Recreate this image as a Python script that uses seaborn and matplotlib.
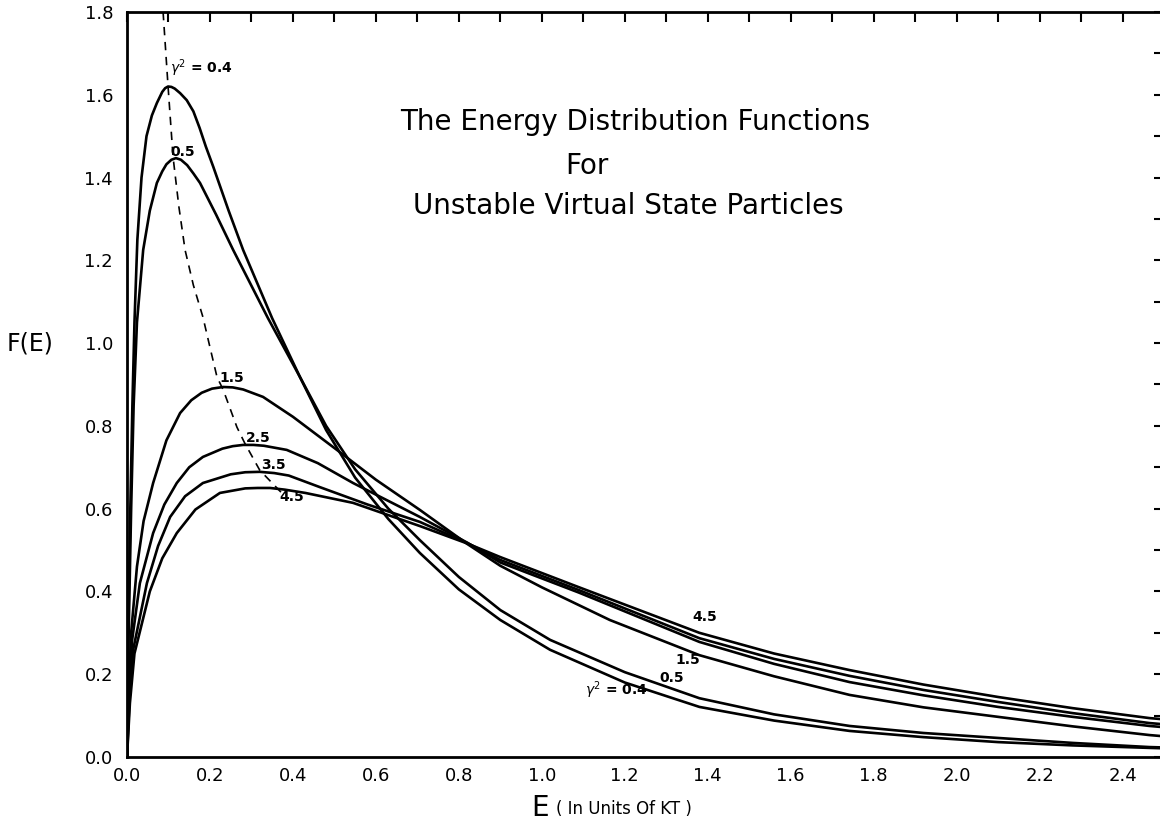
import numpy as np
import pandas as pd
import matplotlib
matplotlib.use("Agg")
import matplotlib.pyplot as plt
import seaborn as sns
from matplotlib.ticker import MultipleLocator, FixedLocator

# values, one curve per gamma^2
g04_x = [0, 0.003, 0.008, 0.013, 0.018, 0.025, 0.035, 0.047, 0.060, 0.072, 0.085, 0.092, 0.099,
         0.107, 0.115, 0.128, 0.144, 0.16, 0.175, 0.19, 0.208, 0.245, 0.28, 0.35, 0.417, 0.48,
         0.55, 0.63, 0.706, 0.8, 0.9, 1.02, 1.2, 1.38, 1.56, 1.742, 1.92, 2.10, 2.28, 2.465, 2.5]
g04_y = [0, 0.30, 0.60, 0.85, 1.05, 1.25, 1.40, 1.50, 1.55, 1.58, 1.607, 1.616, 1.62,
         1.619, 1.615, 1.604, 1.587, 1.56, 1.52, 1.475, 1.426, 1.32, 1.225, 1.06, 0.918, 0.79,
         0.675, 0.575, 0.493, 0.405, 0.331, 0.259, 0.18, 0.121, 0.088, 0.063, 0.048, 0.036, 0.028,
         0.022, 0.021]

g05_x = [0, 0.004, 0.010, 0.016, 0.024, 0.039, 0.055, 0.072, 0.085, 0.095, 0.107, 0.118,
         0.13, 0.145, 0.16, 0.176, 0.215, 0.256, 0.34, 0.417, 0.48, 0.55, 0.63, 0.706, 0.8,
         0.9, 1.02, 1.2, 1.38, 1.56, 1.742, 1.92, 2.10, 2.28, 2.465, 2.5]
g05_y = [0, 0.30, 0.60, 0.85, 1.05, 1.225, 1.32, 1.387, 1.415, 1.432, 1.443, 1.447,
         1.443, 1.43, 1.41, 1.387, 1.31, 1.225, 1.06, 0.918, 0.80, 0.695, 0.60, 0.524, 0.435,
         0.355, 0.283, 0.205, 0.142, 0.103, 0.075, 0.058, 0.046, 0.034, 0.024, 0.023]

g15_x = [0, 0.004, 0.010, 0.024, 0.040, 0.063, 0.095, 0.128, 0.155, 0.18, 0.205, 0.232,
         0.255, 0.28, 0.328, 0.40, 0.506, 0.60, 0.706, 0.82, 0.9, 1.0, 1.164, 1.38, 1.56,
         1.742, 1.92, 2.10, 2.28, 2.465, 2.5]
g15_y = [0, 0.15, 0.30, 0.46, 0.57, 0.662, 0.765, 0.831, 0.862, 0.88, 0.89, 0.894,
         0.893, 0.888, 0.87, 0.822, 0.742, 0.67, 0.597, 0.515, 0.462, 0.41, 0.331, 0.246, 0.195,
         0.15, 0.12, 0.097, 0.074, 0.053, 0.05]

g25_x = [0, 0.005, 0.012, 0.031, 0.063, 0.09, 0.12, 0.15, 0.183, 0.23, 0.255, 0.28, 0.305,
         0.33, 0.385, 0.46, 0.545, 0.706, 0.82, 0.9, 1.09, 1.38, 1.56, 1.742, 1.92, 2.10, 2.28,
         2.465, 2.5]
g25_y = [0, 0.15, 0.28, 0.42, 0.541, 0.61, 0.662, 0.70, 0.725, 0.745, 0.751, 0.754, 0.754,
         0.752, 0.742, 0.71, 0.662, 0.58, 0.518, 0.470, 0.397, 0.278, 0.225, 0.181, 0.149, 0.121,
         0.097, 0.075, 0.072]

g35_x = [0, 0.006, 0.015, 0.048, 0.075, 0.104, 0.14, 0.183, 0.25, 0.285, 0.32, 0.355, 0.39,
         0.465, 0.58, 0.706, 0.82, 0.9, 1.09, 1.38, 1.56, 1.742, 1.92, 2.10, 2.28, 2.465, 2.5]
g35_y = [0, 0.14, 0.26, 0.42, 0.51, 0.58, 0.63, 0.662, 0.683, 0.688, 0.689, 0.686, 0.68,
         0.652, 0.61, 0.568, 0.517, 0.476, 0.403, 0.287, 0.237, 0.196, 0.162, 0.133, 0.106,
         0.082, 0.079]

g45_x = [0, 0.007, 0.018, 0.055, 0.085, 0.12, 0.165, 0.224, 0.285, 0.315, 0.345, 0.38, 0.43,
         0.545, 0.706, 0.82, 0.9, 1.09, 1.38, 1.56, 1.742, 1.92, 2.10, 2.28, 2.465, 2.5]
g45_y = [0, 0.13, 0.25, 0.40, 0.48, 0.541, 0.598, 0.638, 0.649, 0.65, 0.65, 0.646, 0.638,
         0.614, 0.558, 0.516, 0.483, 0.41, 0.30, 0.25, 0.21, 0.175, 0.145, 0.118, 0.094, 0.091]

# dashed locus through the peaks
peak_x = [0.087, 0.093, 0.099, 0.105, 0.111, 0.125, 0.14, 0.16, 0.183, 0.2, 0.217, 0.232,
          0.265, 0.284, 0.32, 0.373]
peak_y = [1.80, 1.71, 1.62, 1.535, 1.45, 1.33, 1.225, 1.14, 1.063, 0.99, 0.918, 0.887,
          0.797, 0.758, 0.693, 0.638]

x_ticks = [0.0, 0.2, 0.4, 0.6, 0.8, 1.0, 1.2, 1.4, 1.6, 1.8, 2.0, 2.2, 2.4]
y_ticks = [0.0, 0.2, 0.4, 0.6, 0.8, 1.0, 1.2, 1.4, 1.6, 1.8]

curves = {
    "0.4": (g04_x, g04_y),
    "0.5": (g05_x, g05_y),
    "1.5": (g15_x, g15_y),
    "2.5": (g25_x, g25_y),
    "3.5": (g35_x, g35_y),
    "4.5": (g45_x, g45_y),
}

sns.set_style("white")
plt.rcParams["font.family"] = ["DejaVu Sans"]
plt.rcParams["text.color"] = "black"

W, H = 1160, 821
fig = plt.figure(figsize=(W / 100, H / 100), dpi=100)
ax = fig.add_axes([127 / W, 1 - 757 / H, (1164 - 127) / W, (757 - 12) / H])

for gamma, (xs, ys) in curves.items():
    df = pd.DataFrame({"E": xs, "F": ys})
    sns.lineplot(data=df, x="E", y="F", color="black", lw=1.9, sort=False,
                 estimator=None, ax=ax)

sns.lineplot(x=peak_x, y=peak_y, color="black", lw=1.2, sort=False, estimator=None,
             ax=ax, linestyle=(0, (5, 4)))

ax.set_xlim(0, 2.5)
ax.set_ylim(0, 1.8)
ax.xaxis.set_major_locator(FixedLocator(x_ticks))
ax.yaxis.set_major_locator(FixedLocator(y_ticks))
ax.xaxis.set_minor_locator(MultipleLocator(0.1))
ax.yaxis.set_minor_locator(MultipleLocator(0.1))
ax.set_xticklabels(["%.1f" % v for v in x_ticks])
ax.set_yticklabels(["%.1f" % v for v in y_ticks])
ax.tick_params(which="both", direction="in", length=7, width=1.5, top=True, right=True,
               colors="black", labelsize=13)
ax.tick_params(axis="x", pad=7)
ax.tick_params(axis="y", pad=10)
for s in ax.spines.values():
    s.set_linewidth(2)
    s.set_color("black")
ax.set_xlabel("")
ax.set_ylabel("")

# curve labels
lab = dict(fontsize=10, fontweight="bold", color="black")
ax.text(0.104, 1.665, r"$\gamma^2$ = 0.4", ha="left", va="center", **lab)
ax.text(0.135, 1.462, "0.5", ha="center", va="center", **lab)
ax.text(0.253, 0.916, "1.5", ha="center", va="center", **lab)
ax.text(0.316, 0.771, "2.5", ha="center", va="center", **lab)
ax.text(0.352, 0.705, "3.5", ha="center", va="center", **lab)
ax.text(0.398, 0.628, "4.5", ha="center", va="center", **lab)
ax.text(1.104, 0.162, r"$\gamma^2$ = 0.4", ha="left", va="center", **lab)
ax.text(1.313, 0.191, "0.5", ha="center", va="center", **lab)
ax.text(1.352, 0.234, "1.5", ha="center", va="center", **lab)
ax.text(1.393, 0.338, "4.5", ha="center", va="center", **lab)

# title block
fig.text(635 / W, 1 - 122 / H, "The Energy Distribution Functions", ha="center",
         va="center", fontsize=20, color="black")
fig.text(587 / W, 1 - 166 / H, "For", ha="center", va="center", fontsize=20, color="black")
fig.text(628 / W, 1 - 206 / H, "Unstable Virtual State Particles", ha="center",
         va="center", fontsize=20, color="black")

fig.text(30 / W, 1 - 343 / H, "F(E)", ha="center", va="center", fontsize=17, color="black")
fig.text(540 / W, 1 - 808 / H, "E", ha="center", va="center", fontsize=20, color="black")
fig.text(556 / W, 1 - 809 / H, "( In Units Of KT )", ha="left", va="center", fontsize=12,
         color="black")

fig.savefig("out.png", dpi=100)
